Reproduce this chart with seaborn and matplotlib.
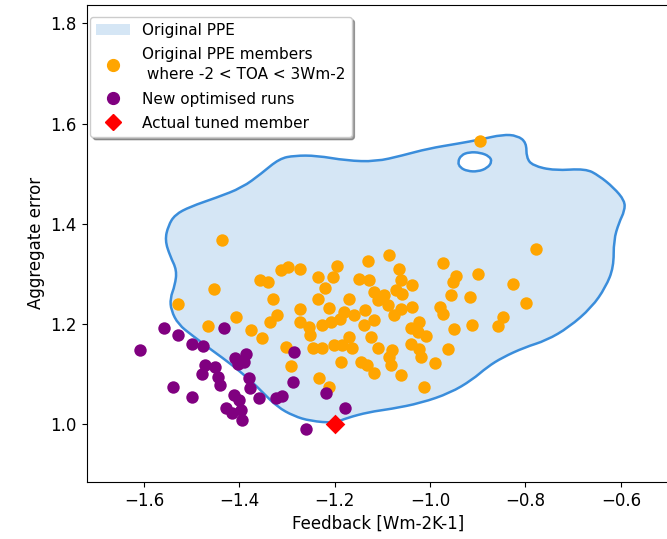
import numpy as np
import pandas as pd
import matplotlib
matplotlib.use("Agg")
import matplotlib.pyplot as plt
import matplotlib.patches as mpatches
from matplotlib.path import Path
import seaborn as sns

# PPE members with -2 < TOA < 3 Wm-2
ppe_x = [-1.436, -1.356, -1.339, -1.453, -1.528, -1.406, -1.466, -1.375, -1.352,
         -1.087, -1.130, -1.297, -1.312, -1.272, -1.195, -1.203, -1.235, -1.221,
         -1.148, -1.128, -1.065, -1.061, -1.117, -1.096, -1.072, -1.236, -1.170,
         -1.329, -0.777, -0.972, -0.900, -0.945, -0.951, -0.826, -1.038, -1.058,
         -0.956, -0.917, -0.798, -1.273, -1.212, -1.321, -1.335, -1.273, -1.254,
         -1.226, -1.208, -1.189, -1.180, -1.159, -1.137, -1.117, -1.138, -1.110,
         -1.089, -1.075, -1.061, -1.303, -1.245, -1.226, -1.201, -1.184, -1.170,
         -1.163, -1.124, -1.110, -1.079, -1.086, -1.291, -1.187, -1.145, -1.133,
         -1.117, -1.233, -1.212, -1.061, -0.979, -0.972, -1.038, -0.847, -0.857,
         -0.912, -0.950, -1.024, -1.040, -1.008, -1.040, -1.024, -1.019, -0.963,
         -0.989, -1.012, -0.896, -1.251, -1.082, -1.025]
ppe_y = [1.368, 1.287, 1.283, 1.269, 1.240, 1.213, 1.196, 1.187, 1.171,
         1.337, 1.325, 1.313, 1.307, 1.309, 1.315, 1.293, 1.293, 1.272,
         1.290, 1.287, 1.310, 1.287, 1.264, 1.257, 1.267, 1.250, 1.250,
         1.250, 1.350, 1.321, 1.299, 1.295, 1.283, 1.279, 1.277, 1.260,
         1.257, 1.254, 1.242, 1.229, 1.232, 1.217, 1.204, 1.203, 1.194,
         1.198, 1.204, 1.210, 1.224, 1.217, 1.227, 1.207, 1.197, 1.247,
         1.237, 1.217, 1.230, 1.154, 1.152, 1.151, 1.157, 1.157, 1.174,
         1.152, 1.174, 1.151, 1.147, 1.134, 1.116, 1.124, 1.124, 1.118,
         1.101, 1.091, 1.074, 1.098, 1.234, 1.220, 1.234, 1.214, 1.196,
         1.198, 1.189, 1.204, 1.192, 1.176, 1.159, 1.149, 1.134, 1.149,
         1.121, 1.074, 1.566, 1.177, 1.118, 1.183]

# new optimised runs
opt_x = [-1.557, -1.529, -1.433, -1.608, -1.500, -1.477, -1.410, -1.387, -1.391,
         -1.473, -1.451, -1.479, -1.444, -1.440, -1.380, -1.377, -1.540, -1.500,
         -1.412, -1.401, -1.359, -1.427, -1.415, -1.396, -1.394, -1.286, -1.287,
         -1.310, -1.324, -1.218, -1.178, -1.260, -1.403]
opt_y = [1.191, 1.177, 1.191, 1.147, 1.159, 1.156, 1.132, 1.139, 1.124,
         1.118, 1.114, 1.099, 1.094, 1.078, 1.091, 1.072, 1.074, 1.053,
         1.058, 1.048, 1.051, 1.031, 1.023, 1.028, 1.008, 1.143, 1.083,
         1.056, 1.052, 1.061, 1.032, 0.991, 1.120]

# actual tuned member
tuned_x = [-1.200]
tuned_y = [1.001]

# outline of the original PPE density region
outline_x = [-1.556, -1.549, -1.535, -1.503, -1.448, -1.394, -1.354, -1.316, -1.284,
             -1.238, -1.175, -1.114, -1.059, -1.004, -0.941, -0.895, -0.848, -0.817,
             -0.798, -0.798, -0.785, -0.739, -0.674, -0.646, -0.615, -0.592, -0.592,
             -0.604, -0.615, -0.615, -0.632, -0.661, -0.709, -0.756, -0.802, -0.848,
             -0.880, -0.912, -0.958, -1.019, -1.082, -1.128, -1.175, -1.200, -1.251,
             -1.286, -1.320, -1.352, -1.373, -1.415, -1.457, -1.499, -1.528, -1.543,
             -1.545, -1.535, -1.531, -1.545]
outline_y = [1.367, 1.396, 1.418, 1.434, 1.452, 1.472, 1.500, 1.530, 1.536,
             1.536, 1.526, 1.524, 1.536, 1.550, 1.560, 1.568, 1.578, 1.576,
             1.562, 1.532, 1.516, 1.506, 1.510, 1.496, 1.472, 1.446, 1.426,
             1.402, 1.367, 1.313, 1.273, 1.233, 1.193, 1.167, 1.153, 1.133,
             1.114, 1.088, 1.062, 1.042, 1.030, 1.024, 1.012, 1.002, 1.006,
             1.016, 1.034, 1.064, 1.084, 1.118, 1.147, 1.177, 1.199, 1.227,
             1.251, 1.277, 1.307, 1.335]
# small hole in the region near the top
hole_x = [-0.942, -0.935, -0.918, -0.895, -0.876, -0.870, -0.880, -0.900, -0.922, -0.937]
hole_y = [1.523, 1.537, 1.543, 1.542, 1.535, 1.524, 1.511, 1.504, 1.505, 1.512]

FILL = "#d5e6f5"
EDGE = "#3a8ddb"


def smooth_path(xs, ys):
    # closed curve using the traced points as quadratic control points
    pts = np.column_stack([xs, ys])
    mids = (pts + np.roll(pts, -1, axis=0)) / 2
    verts = [mids[-1]]
    codes = [Path.MOVETO]
    for p, m in zip(pts, mids):
        verts += [p, m]
        codes += [Path.CURVE3, Path.CURVE3]
    return Path(verts, codes)


ppe = pd.DataFrame({"x": ppe_x, "y": ppe_y})
opt = pd.DataFrame({"x": opt_x, "y": opt_y})
tuned = pd.DataFrame({"x": tuned_x, "y": tuned_y})

fig = plt.figure(figsize=(6.67, 5.39), dpi=100)
ax = fig.add_axes([0.130, 0.106, 0.873, 0.885])

# density region of the original PPE
ax.add_patch(mpatches.PathPatch(smooth_path(outline_x, outline_y), facecolor=FILL,
                                edgecolor=EDGE, lw=1.8, zorder=1))
ax.add_patch(mpatches.PathPatch(smooth_path(hole_x, hole_y), facecolor="white",
                                edgecolor=EDGE, lw=1.8, zorder=2))

sns.scatterplot(data=ppe, x="x", y="y", color="orange", s=80, linewidth=0, ax=ax, zorder=3)
sns.scatterplot(data=opt, x="x", y="y", color="purple", s=80, linewidth=0, ax=ax, zorder=4)
sns.scatterplot(data=tuned, x="x", y="y", color="red", marker="D", s=100, linewidth=0, ax=ax, zorder=5)

ax.set_xlim(-1.72, -0.499)
ax.set_ylim(0.8845, 1.837)
ax.set_xticks([-1.6, -1.4, -1.2, -1.0, -0.8, -0.6])
ax.set_yticks([1.0, 1.2, 1.4, 1.6, 1.8])
ax.tick_params(labelsize=12)
ax.set_xlabel("Feedback [Wm-2K-1]", fontsize=12)
ax.set_ylabel("Aggregate error", fontsize=12)

handles = [
    mpatches.Patch(facecolor=FILL, edgecolor="none"),
    plt.Line2D([], [], ls="", marker="o", color="orange", markersize=8.5),
    plt.Line2D([], [], ls="", marker="o", color="purple", markersize=8.5),
    plt.Line2D([], [], ls="", marker="D", color="red", markersize=8),
]
labels = ["Original PPE", "Original PPE members\n where -2 < TOA < 3Wm-2",
          "New optimised runs", "Actual tuned member"]
leg = ax.legend(handles, labels, loc="upper left", bbox_to_anchor=(0.006, 0.975),
                borderaxespad=0, fontsize=11, shadow=True, framealpha=1,
                labelspacing=0.6, handlelength=2.2)
for t in leg.get_texts():
    t.set_linespacing(1.45)

fig.savefig("out.png", dpi=100)
